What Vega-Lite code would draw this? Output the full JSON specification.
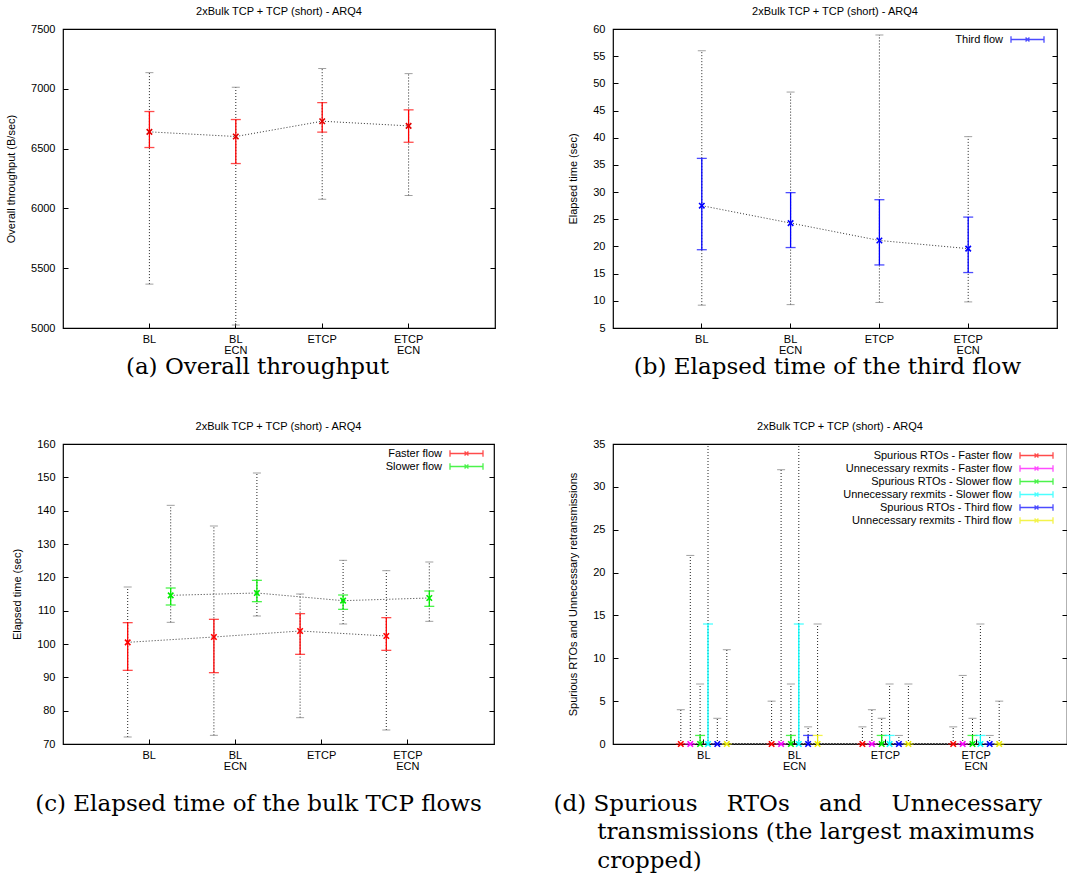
{
  "$schema": "https://vega.github.io/schema/vega-lite/v6.json",
  "padding": {"left": 4, "top": 5, "right": 0, "bottom": 0},
  "datasets": {
    "thr": [
      {"scenario": "BL", "series": "Overall", "mean": 6640, "ci_lo": 6509, "ci_hi": 6810, "min": 5367, "max": 7135},
      {"scenario": "BL ECN", "series": "Overall", "mean": 6601, "ci_lo": 6375, "ci_hi": 6743, "min": 5025, "max": 7013},
      {"scenario": "ETCP", "series": "Overall", "mean": 6729, "ci_lo": 6637, "ci_hi": 6885, "min": 6077, "max": 7169},
      {"scenario": "ETCP ECN", "series": "Overall", "mean": 6690, "ci_lo": 6553, "ci_hi": 6824, "min": 6108, "max": 7127}
    ],
    "third": [
      {"scenario": "BL", "series": "Third flow", "mean": 27.5, "ci_lo": 19.4, "ci_hi": 36.2, "min": 9.2, "max": 56.0},
      {"scenario": "BL ECN", "series": "Third flow", "mean": 24.3, "ci_lo": 19.8, "ci_hi": 29.9, "min": 9.3, "max": 48.4},
      {"scenario": "ETCP", "series": "Third flow", "mean": 21.1, "ci_lo": 16.6, "ci_hi": 28.6, "min": 9.7, "max": 58.9},
      {"scenario": "ETCP ECN", "series": "Third flow", "mean": 19.6, "ci_lo": 15.2, "ci_hi": 25.4, "min": 9.8, "max": 40.2}
    ],
    "bulk": [
      {"scenario": "BL", "series": "Faster flow", "mean": 100.5, "ci_lo": 92.1, "ci_hi": 106.4, "min": 72.1, "max": 117.1},
      {"scenario": "BL ECN", "series": "Faster flow", "mean": 102.1, "ci_lo": 91.4, "ci_hi": 107.4, "min": 72.6, "max": 135.4},
      {"scenario": "ETCP", "series": "Faster flow", "mean": 103.9, "ci_lo": 96.9, "ci_hi": 109.1, "min": 77.9, "max": 115.0},
      {"scenario": "ETCP ECN", "series": "Faster flow", "mean": 102.4, "ci_lo": 98.1, "ci_hi": 107.9, "min": 74.2, "max": 122.0},
      {"scenario": "BL", "series": "Slower flow", "mean": 114.6, "ci_lo": 111.7, "ci_hi": 116.8, "min": 106.5, "max": 141.6},
      {"scenario": "BL ECN", "series": "Slower flow", "mean": 115.3, "ci_lo": 112.7, "ci_hi": 119.1, "min": 108.4, "max": 151.3},
      {"scenario": "ETCP", "series": "Slower flow", "mean": 113.0, "ci_lo": 110.4, "ci_hi": 114.7, "min": 106.0, "max": 125.1},
      {"scenario": "ETCP ECN", "series": "Slower flow", "mean": 113.8, "ci_lo": 111.3, "ci_hi": 115.9, "min": 106.8, "max": 124.6}
    ],
    "rto": [
      {"scenario": "BL", "series": "Spurious RTOs - Faster flow", "mean": 0, "ci_lo": 0, "ci_hi": 0, "min": 0, "max": 4},
      {"scenario": "BL", "series": "Unnecessary rexmits - Faster flow", "mean": 0, "ci_lo": 0, "ci_hi": 0, "min": 0, "max": 22},
      {"scenario": "BL", "series": "Spurious RTOs - Slower flow", "mean": 0, "ci_lo": 0, "ci_hi": 1, "min": 0, "max": 7},
      {"scenario": "BL", "series": "Unnecessary rexmits - Slower flow", "mean": 0, "ci_lo": 0, "ci_hi": 14, "min": 0, "max": 40},
      {"scenario": "BL", "series": "Spurious RTOs - Third flow", "mean": 0, "ci_lo": 0, "ci_hi": 0, "min": 0, "max": 3},
      {"scenario": "BL", "series": "Unnecessary rexmits - Third flow", "mean": 0, "ci_lo": 0, "ci_hi": 0, "min": 0, "max": 11},
      {"scenario": "BL ECN", "series": "Spurious RTOs - Faster flow", "mean": 0, "ci_lo": 0, "ci_hi": 0, "min": 0, "max": 5},
      {"scenario": "BL ECN", "series": "Unnecessary rexmits - Faster flow", "mean": 0, "ci_lo": 0, "ci_hi": 0, "min": 0, "max": 32},
      {"scenario": "BL ECN", "series": "Spurious RTOs - Slower flow", "mean": 0, "ci_lo": 0, "ci_hi": 1, "min": 0, "max": 7},
      {"scenario": "BL ECN", "series": "Unnecessary rexmits - Slower flow", "mean": 0, "ci_lo": 0, "ci_hi": 14, "min": 0, "max": 40},
      {"scenario": "BL ECN", "series": "Spurious RTOs - Third flow", "mean": 0, "ci_lo": 0, "ci_hi": 1, "min": 0, "max": 2},
      {"scenario": "BL ECN", "series": "Unnecessary rexmits - Third flow", "mean": 0, "ci_lo": 0, "ci_hi": 1, "min": 0, "max": 14},
      {"scenario": "ETCP", "series": "Spurious RTOs - Faster flow", "mean": 0, "ci_lo": 0, "ci_hi": 0, "min": 0, "max": 2},
      {"scenario": "ETCP", "series": "Unnecessary rexmits - Faster flow", "mean": 0, "ci_lo": 0, "ci_hi": 0, "min": 0, "max": 4},
      {"scenario": "ETCP", "series": "Spurious RTOs - Slower flow", "mean": 0, "ci_lo": 0, "ci_hi": 1, "min": 0, "max": 3},
      {"scenario": "ETCP", "series": "Unnecessary rexmits - Slower flow", "mean": 0, "ci_lo": 0, "ci_hi": 1, "min": 0, "max": 7},
      {"scenario": "ETCP", "series": "Spurious RTOs - Third flow", "mean": 0, "ci_lo": 0, "ci_hi": 0, "min": 0, "max": 1},
      {"scenario": "ETCP", "series": "Unnecessary rexmits - Third flow", "mean": 0, "ci_lo": 0, "ci_hi": 0, "min": 0, "max": 7},
      {"scenario": "ETCP ECN", "series": "Spurious RTOs - Faster flow", "mean": 0, "ci_lo": 0, "ci_hi": 0, "min": 0, "max": 2},
      {"scenario": "ETCP ECN", "series": "Unnecessary rexmits - Faster flow", "mean": 0, "ci_lo": 0, "ci_hi": 0, "min": 0, "max": 8},
      {"scenario": "ETCP ECN", "series": "Spurious RTOs - Slower flow", "mean": 0, "ci_lo": 0, "ci_hi": 1, "min": 0, "max": 3},
      {"scenario": "ETCP ECN", "series": "Unnecessary rexmits - Slower flow", "mean": 0, "ci_lo": 0, "ci_hi": 1, "min": 0, "max": 14},
      {"scenario": "ETCP ECN", "series": "Spurious RTOs - Third flow", "mean": 0, "ci_lo": 0, "ci_hi": 0, "min": 0, "max": 1},
      {"scenario": "ETCP ECN", "series": "Unnecessary rexmits - Third flow", "mean": 0, "ci_lo": 0, "ci_hi": 0, "min": 0, "max": 5}
    ]
  },
  "columns": 2,
  "bounds": "flush",
  "spacing": {"row": 116, "column": 118},
  "resolve": {"scale": {"color": "independent"}},
  "concat": [
    {
      "title": "2xBulk TCP + TCP (short) - ARQ4",
      "width": 432, "height": 299,
      "data": {"name": "thr"},
      "resolve": {"scale": {"y": "independent"}},
      "layer": [
        {
          "width": 432, "height": 299,
          "encoding": {
            "x": {"field": "scenario", "type": "nominal", "sort": ["BL", "BL ECN", "ETCP", "ETCP ECN"],
                  "scale": {"type": "band", "paddingInner": 0, "paddingOuter": 0.5},
                  "axis": {"title": "(a) Overall throughput", "titleFont": "DejaVu Serif", "titleFontSize": 23, "titleX": 194, "titleAlign": "center", "titlePadding": 0, "labelExpr": "split(datum.value, ' ')", "labelAngle": 0, "labelLineHeight": 11}}
          },
          "layer": [
            {"mark": {"type": "rule", "strokeDash": [1, 2], "color": "#222", "strokeWidth": 1},
             "encoding": {"y": {"field": "min", "type": "quantitative", "scale": {"domain": [5000, 7500], "nice": false, "zero": false},
                          "axis": {"title": "Overall throughput (B/sec)", "values": [5000, 5500, 6000, 6500, 7000, 7500], "tickCount": 30, "format": "d", "titlePadding": 14, "labelPadding": 13, "labelOverlap": false}},
                          "y2": {"field": "max"}}},
            {"mark": {"type": "tick", "color": "#777", "thickness": 1, "size": 8}, "encoding": {"y": {"field": "min", "type": "quantitative"}}},
            {"mark": {"type": "tick", "color": "#777", "thickness": 1, "size": 8}, "encoding": {"y": {"field": "max", "type": "quantitative"}}},
            {"mark": {"type": "line", "color": "#333", "strokeDash": [1, 2], "strokeWidth": 1}, "encoding": {"y": {"field": "mean", "type": "quantitative"}}},
            {"mark": {"type": "rule", "color": "#ff0000", "strokeWidth": 1.3}, "encoding": {"y": {"field": "ci_lo", "type": "quantitative"}, "y2": {"field": "ci_hi"}}},
            {"mark": {"type": "tick", "color": "#ff0000", "thickness": 1.3, "size": 10}, "encoding": {"y": {"field": "ci_lo", "type": "quantitative"}}},
            {"mark": {"type": "tick", "color": "#ff0000", "thickness": 1.3, "size": 10}, "encoding": {"y": {"field": "ci_hi", "type": "quantitative"}}},
            {"mark": {"type": "point", "shape": "M-1,-1L1,1M-1,1L1,-1", "filled": false, "size": 30, "strokeWidth": 1.6, "color": "#e00000", "opacity": 1}, "encoding": {"y": {"field": "mean", "type": "quantitative"}}}
          ]
        },
        {
          "mark": {"type": "point", "opacity": 0},
          "encoding": {
            "x": {"field": "scenario", "type": "nominal", "sort": ["BL", "BL ECN", "ETCP", "ETCP ECN"]},
            "y": {"field": "mean", "type": "quantitative", "scale": {"domain": [5000, 7500], "nice": false, "zero": false},
                  "axis": {"orient": "right", "labels": false, "title": null, "tickCount": 30, "values": [5000, 5500, 6000, 6500, 7000, 7500]}}
          }
        }
      ]
    },
    {
      "title": "2xBulk TCP + TCP (short) - ARQ4",
      "width": 444, "height": 299,
      "data": {"name": "third"},
      "resolve": {"scale": {"y": "independent"}},
      "layer": [
        {
          "width": 444, "height": 299,
          "encoding": {
            "x": {"field": "scenario", "type": "nominal", "sort": ["BL", "BL ECN", "ETCP", "ETCP ECN"],
                  "scale": {"type": "band", "paddingInner": 0, "paddingOuter": 0.5},
                  "axis": {"title": "(b) Elapsed time of the third flow", "titleFont": "DejaVu Serif", "titleFontSize": 23, "titleX": 214, "titleAlign": "center", "titlePadding": 0, "labelExpr": "split(datum.value, ' ')", "labelAngle": 0, "labelLineHeight": 11}},
            "color": {"field": "series", "type": "nominal", "scale": {"domain": ["Third flow"], "range": ["#0000ff"]},
                      "legend": {"orient": "none", "legendX": 408, "legendY": 4, "title": null}}
          },
          "layer": [
            {"mark": {"type": "rule", "strokeDash": [1, 2], "strokeWidth": 1},
             "encoding": {"color": {"value": "#222"}, "y": {"field": "min", "type": "quantitative", "scale": {"domain": [5, 60], "nice": false, "zero": false},
                          "axis": {"title": "Elapsed time (sec)", "values": [5, 10, 15, 20, 25, 30, 35, 40, 45, 50, 55, 60], "tickCount": 30, "titlePadding": 14, "labelPadding": 13, "labelOverlap": false}},
                          "y2": {"field": "max"}}},
            {"mark": {"type": "tick", "thickness": 1, "size": 8}, "encoding": {"color": {"value": "#777"}, "y": {"field": "min", "type": "quantitative"}}},
            {"mark": {"type": "tick", "thickness": 1, "size": 8}, "encoding": {"color": {"value": "#777"}, "y": {"field": "max", "type": "quantitative"}}},
            {"mark": {"type": "line", "strokeDash": [1, 2], "strokeWidth": 1}, "encoding": {"color": {"value": "#333"}, "y": {"field": "mean", "type": "quantitative"}}},
            {"mark": {"type": "rule", "strokeWidth": 1.3}, "encoding": {"y": {"field": "ci_lo", "type": "quantitative"}, "y2": {"field": "ci_hi"}}},
            {"mark": {"type": "tick", "thickness": 1.3, "size": 10}, "encoding": {"y": {"field": "ci_lo", "type": "quantitative"}}},
            {"mark": {"type": "tick", "thickness": 1.3, "size": 10}, "encoding": {"y": {"field": "ci_hi", "type": "quantitative"}}},
            {"mark": {"type": "point", "shape": "M-1,-1L1,1M-1,1L1,-1", "filled": false, "size": 30, "strokeWidth": 1.6, "opacity": 1},
             "encoding": {"y": {"field": "mean", "type": "quantitative"}}}
          ]
        },
        {
          "mark": {"type": "point", "opacity": 0},
          "encoding": {
            "x": {"field": "scenario", "type": "nominal", "sort": ["BL", "BL ECN", "ETCP", "ETCP ECN"]},
            "y": {"field": "mean", "type": "quantitative", "scale": {"domain": [5, 60], "nice": false, "zero": false},
                  "axis": {"orient": "right", "labels": false, "title": null, "tickCount": 30, "values": [5, 10, 15, 20, 25, 30, 35, 40, 45, 50, 55, 60]}}
          }
        }
      ]
    },
    {
      "title": "2xBulk TCP + TCP (short) - ARQ4",
      "width": 431, "height": 300,
      "data": {"name": "bulk"},
      "resolve": {"scale": {"y": "independent"}},
      "layer": [
        {
          "width": 431, "height": 300,
          "encoding": {
            "x": {"field": "scenario", "type": "nominal", "sort": ["BL", "BL ECN", "ETCP", "ETCP ECN"],
                  "scale": {"type": "band", "paddingInner": 0, "paddingOuter": 0.5},
                  "axis": {"title": "(c) Elapsed time of the bulk TCP flows", "titleFont": "DejaVu Serif", "titleFontSize": 23, "titleX": 195, "titleAlign": "center", "titlePadding": 21, "labelExpr": "split(datum.value, ' ')", "labelAngle": 0, "labelLineHeight": 11}},
            "color": {"field": "series", "type": "nominal", "scale": {"domain": ["Faster flow", "Slower flow"], "range": ["#ff0000", "#00ee00"]},
                      "legend": {"orient": "none", "legendX": 397, "legendY": 3, "title": null}}
          },
          "layer": [
            {"mark": {"type": "rule", "strokeDash": [1, 2], "strokeWidth": 1, "xOffset": {"expr": "datum.series == 'Faster flow' ? -21.5 : 21.5"}},
             "encoding": {"color": {"value": "#222"}, "y": {"field": "min", "type": "quantitative", "scale": {"domain": [70, 160], "nice": false, "zero": false},
                          "axis": {"title": "Elapsed time (sec)", "values": [70, 80, 90, 100, 110, 120, 130, 140, 150, 160], "tickCount": 30, "titlePadding": 14, "labelPadding": 13, "labelOverlap": false}},
                          "y2": {"field": "max"}}},
            {"mark": {"type": "tick", "thickness": 1, "size": 8, "xOffset": {"expr": "datum.series == 'Faster flow' ? -21.5 : 21.5"}}, "encoding": {"color": {"value": "#777"}, "y": {"field": "min", "type": "quantitative"}}},
            {"mark": {"type": "tick", "thickness": 1, "size": 8, "xOffset": {"expr": "datum.series == 'Faster flow' ? -21.5 : 21.5"}}, "encoding": {"color": {"value": "#777"}, "y": {"field": "max", "type": "quantitative"}}},
            {"mark": {"type": "line", "strokeDash": [1, 2], "strokeWidth": 1, "xOffset": {"expr": "datum.series == 'Faster flow' ? -21.5 : 21.5"}}, "encoding": {"color": {"value": "#333"}, "y": {"field": "mean", "type": "quantitative"}, "detail": {"field": "series"}}},
            {"mark": {"type": "rule", "strokeWidth": 1.3, "xOffset": {"expr": "datum.series == 'Faster flow' ? -21.5 : 21.5"}}, "encoding": {"y": {"field": "ci_lo", "type": "quantitative"}, "y2": {"field": "ci_hi"}}},
            {"mark": {"type": "tick", "thickness": 1.3, "size": 10, "xOffset": {"expr": "datum.series == 'Faster flow' ? -21.5 : 21.5"}}, "encoding": {"y": {"field": "ci_lo", "type": "quantitative"}}},
            {"mark": {"type": "tick", "thickness": 1.3, "size": 10, "xOffset": {"expr": "datum.series == 'Faster flow' ? -21.5 : 21.5"}}, "encoding": {"y": {"field": "ci_hi", "type": "quantitative"}}},
            {"mark": {"type": "point", "shape": "M-1,-1L1,1M-1,1L1,-1", "filled": false, "size": 30, "strokeWidth": 1.6, "opacity": 1, "xOffset": {"expr": "datum.series == 'Faster flow' ? -21.5 : 21.5"}},
             "encoding": {"y": {"field": "mean", "type": "quantitative"}}}
          ]
        },
        {
          "mark": {"type": "point", "opacity": 0},
          "encoding": {
            "x": {"field": "scenario", "type": "nominal", "sort": ["BL", "BL ECN", "ETCP", "ETCP ECN"]},
            "y": {"field": "mean", "type": "quantitative", "scale": {"domain": [70, 160], "nice": false, "zero": false},
                  "axis": {"orient": "right", "labels": false, "title": null, "tickCount": 30, "values": [70, 80, 90, 100, 110, 120, 130, 140, 150, 160]}}
          }
        }
      ]
    },
    {
      "title": "2xBulk TCP + TCP (short) - ARQ4",
      "width": 454, "height": 300,
      "data": {"name": "rto"},
      "resolve": {"scale": {"y": "independent"}},
      "layer": [
        {
          "width": 454, "height": 300,
          "encoding": {
            "x": {"field": "scenario", "type": "nominal", "sort": ["BL", "BL ECN", "ETCP", "ETCP ECN"],
                  "scale": {"type": "band", "paddingInner": 0, "paddingOuter": 0.5},
                  "axis": {"title": ["(d) Spurious\u00a0\u00a0\u00a0\u00a0RTOs\u00a0\u00a0\u00a0\u00a0and\u00a0\u00a0\u00a0\u00a0Unnecessary", "\u200b\u00a0\u00a0\u00a0\u00a0\u00a0\u00a0transmissions (the largest maximums", "\u200b\u00a0\u00a0\u00a0\u00a0\u00a0\u00a0cropped)"],
                           "titleFont": "DejaVu Serif", "titleFontSize": 23, "titleX": -60, "titleAlign": "left", "titlePadding": 21, "titleLineHeight": 28.5,
                           "labelExpr": "split(datum.value, ' ')", "labelAngle": 0, "labelLineHeight": 11}},
            "color": {"field": "series", "type": "nominal", "scale": {"domain": ["Spurious RTOs - Faster flow", "Unnecessary rexmits - Faster flow", "Spurious RTOs - Slower flow", "Unnecessary rexmits - Slower flow", "Spurious RTOs - Third flow", "Unnecessary rexmits - Third flow"], "range": ["#ff0000", "#ff00ff", "#00ee00", "#00ffff", "#0000ff", "#eeee00"]},
                      "legend": {"orient": "none", "legendX": 417, "legendY": 5, "title": null, "rowPadding": -3.5}}
          },
          "layer": [
            {"mark": {"type": "rule", "strokeDash": [1, 2], "strokeWidth": 1, "clip": true, "xOffset": {"expr": "[-23, -13.5, -3.7, 4.2, 13.5, 23][indexof(['Spurious RTOs - Faster flow', 'Unnecessary rexmits - Faster flow', 'Spurious RTOs - Slower flow', 'Unnecessary rexmits - Slower flow', 'Spurious RTOs - Third flow', 'Unnecessary rexmits - Third flow'], datum.series)]"}},
             "encoding": {"color": {"value": "#222"}, "y": {"field": "min", "type": "quantitative", "scale": {"domain": [0, 35], "nice": false},
                          "axis": {"title": "Spurious RTOs and Unnecessary retransmissions", "values": [0, 5, 10, 15, 20, 25, 30, 35], "tickCount": 30, "titlePadding": 14, "labelPadding": 13, "labelOverlap": false}},
                          "y2": {"field": "max"}}},
            {"mark": {"type": "tick", "thickness": 1, "size": 8, "clip": true, "xOffset": {"expr": "[-23, -13.5, -3.7, 4.2, 13.5, 23][indexof(['Spurious RTOs - Faster flow', 'Unnecessary rexmits - Faster flow', 'Spurious RTOs - Slower flow', 'Unnecessary rexmits - Slower flow', 'Spurious RTOs - Third flow', 'Unnecessary rexmits - Third flow'], datum.series)]"}},
             "encoding": {"color": {"value": "#777"}, "y": {"field": "max", "type": "quantitative"}}},
            {"mark": {"type": "line", "strokeDash": [1, 2], "strokeWidth": 1, "xOffset": {"expr": "[-23, -13.5, -3.7, 4.2, 13.5, 23][indexof(['Spurious RTOs - Faster flow', 'Unnecessary rexmits - Faster flow', 'Spurious RTOs - Slower flow', 'Unnecessary rexmits - Slower flow', 'Spurious RTOs - Third flow', 'Unnecessary rexmits - Third flow'], datum.series)]"}},
             "encoding": {"color": {"value": "#333"}, "y": {"field": "mean", "type": "quantitative"}, "detail": {"field": "series"}}},
            {"mark": {"type": "rule", "strokeWidth": 1.3, "xOffset": {"expr": "[-23, -13.5, -3.7, 4.2, 13.5, 23][indexof(['Spurious RTOs - Faster flow', 'Unnecessary rexmits - Faster flow', 'Spurious RTOs - Slower flow', 'Unnecessary rexmits - Slower flow', 'Spurious RTOs - Third flow', 'Unnecessary rexmits - Third flow'], datum.series)]"}},
             "encoding": {"y": {"field": "ci_lo", "type": "quantitative"}, "y2": {"field": "ci_hi"}}},
            {"mark": {"type": "tick", "thickness": 1.3, "size": 10, "xOffset": {"expr": "[-23, -13.5, -3.7, 4.2, 13.5, 23][indexof(['Spurious RTOs - Faster flow', 'Unnecessary rexmits - Faster flow', 'Spurious RTOs - Slower flow', 'Unnecessary rexmits - Slower flow', 'Spurious RTOs - Third flow', 'Unnecessary rexmits - Third flow'], datum.series)]"}},
             "encoding": {"y": {"field": "ci_hi", "type": "quantitative"}}},
            {"mark": {"type": "point", "shape": "M-1,-1L1,1M-1,1L1,-1", "filled": false, "size": 30, "strokeWidth": 1.6, "opacity": 1, "xOffset": {"expr": "[-23, -13.5, -3.7, 4.2, 13.5, 23][indexof(['Spurious RTOs - Faster flow', 'Unnecessary rexmits - Faster flow', 'Spurious RTOs - Slower flow', 'Unnecessary rexmits - Slower flow', 'Spurious RTOs - Third flow', 'Unnecessary rexmits - Third flow'], datum.series)]"}},
             "encoding": {"y": {"field": "mean", "type": "quantitative"}}}
          ]
        },
        {
          "mark": {"type": "point", "opacity": 0},
          "encoding": {
            "x": {"field": "scenario", "type": "nominal", "sort": ["BL", "BL ECN", "ETCP", "ETCP ECN"]},
            "y": {"field": "mean", "type": "quantitative", "scale": {"domain": [0, 35], "nice": false},
                  "axis": {"orient": "right", "labels": false, "title": null, "tickCount": 30, "values": [0, 5, 10, 15, 20, 25, 30, 35]}}
          }
        }
      ]
    }
  ],
  "config": {
    "view": {"stroke": "#000", "strokeWidth": 1.2},
    "axis": {"labelFont": "Liberation Sans", "labelFontSize": 11, "labelColor": "#000", "titleFont": "Liberation Sans", "titleFontSize": 11, "titleFontWeight": "normal", "titleColor": "#000",
             "grid": false, "domain": false, "tickColor": "#000", "tickSize": -5, "labelPadding": 10, "labelOverlap": false},
    "legend": {"symbolType": "M-3,0L3,0M-3,-0.6L-3,0.6M3,-0.6L3,0.6M-0.35,-0.35L0.35,0.35M-0.35,0.35L0.35,-0.35",
               "symbolSize": 121, "symbolStrokeWidth": 1.3, "symbolFillColor": "transparent", "labelAlign": "right", "labelOffset": -31,
               "labelFont": "Liberation Sans", "labelFontSize": 11, "labelColor": "#000", "labelLimit": 300, "padding": 0, "rowPadding": -2},
    "title": {"font": "Liberation Sans", "fontSize": 11, "fontWeight": "normal", "color": "#000", "offset": 6}
  }
}
